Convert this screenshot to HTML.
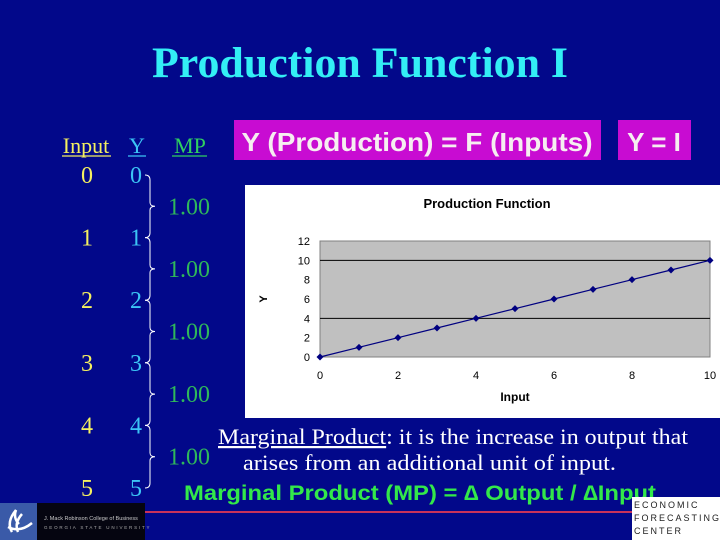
<!DOCTYPE html>
<html><head><meta charset="utf-8"><style>
html,body{margin:0;padding:0;background:#02088a;}
svg{display:block}
</style></head><body>
<svg width="720" height="540" viewBox="0 0 720 540" xmlns="http://www.w3.org/2000/svg">
<rect x="0" y="0" width="720" height="540" fill="#02088a"/>
<text x="360" y="77" text-anchor="middle" font-family="Liberation Serif, serif" font-weight="bold" font-size="43" fill="#33eef5" textLength="416" lengthAdjust="spacingAndGlyphs">Production Function I</text>

<g font-family="Liberation Serif, serif" font-size="24">
<text x="86" y="153" text-anchor="middle" fill="#f5f060" font-size="22">Input</text>
<line x1="62" y1="156" x2="111" y2="156" stroke="#f5f060" stroke-width="1.2"/>
<text x="137" y="153" text-anchor="middle" fill="#3cc4f5" font-size="22">Y</text>
<line x1="128" y1="156" x2="146" y2="156" stroke="#3cc4f5" stroke-width="1.2"/>
<text x="190" y="153" text-anchor="middle" fill="#2fd060" font-size="22">MP</text>
<line x1="172" y1="156" x2="207" y2="156" stroke="#2fd060" stroke-width="1.2"/>
<g id="rows"></g>
</g>

<rect x="234" y="120" width="367" height="40" fill="#c80cd2"/>
<text x="417" y="151" text-anchor="middle" font-family="Liberation Sans, sans-serif" font-weight="bold" font-size="26" fill="#f6eef0" textLength="351" lengthAdjust="spacingAndGlyphs">Y (Production) = F (Inputs)</text>
<rect x="618" y="120" width="73" height="40" fill="#c80cd2"/>
<text x="654" y="151" text-anchor="middle" font-family="Liberation Sans, sans-serif" font-weight="bold" font-size="26" fill="#f6eef0">Y = I</text>

<g id="chart">
<rect x="245" y="185" width="475" height="233" fill="#ffffff"/>
<text x="487" y="208" text-anchor="middle" font-family="Liberation Sans, sans-serif" font-weight="bold" font-size="13" fill="#000">Production Function</text>
<rect x="320" y="241" width="390" height="116" fill="#c0c0c0" stroke="#808080" stroke-width="1"/>
<g id="grid"></g>
<g id="ticks" font-family="Liberation Sans, sans-serif" font-size="11" fill="#000"></g>
<text x="267" y="299" text-anchor="middle" font-family="Liberation Sans, sans-serif" font-weight="bold" font-size="11" transform="rotate(-90 267 299)">Y</text>
<text x="515" y="401" text-anchor="middle" font-family="Liberation Sans, sans-serif" font-weight="bold" font-size="12">Input</text>
<g id="series"></g>
</g>

<text x="218" y="444" font-family="Liberation Serif, serif" font-size="22" fill="#ffffff" textLength="470" lengthAdjust="spacingAndGlyphs"><tspan text-decoration="underline">Marginal Product</tspan>: it is the increase in output that</text>
<text x="243" y="470" font-family="Liberation Serif, serif" font-size="22" fill="#ffffff" textLength="373" lengthAdjust="spacingAndGlyphs">arises from an additional unit of  input.</text>
<text x="184" y="500" font-family="Liberation Sans, sans-serif" font-weight="bold" font-size="21" fill="#33e84a" textLength="472" lengthAdjust="spacingAndGlyphs">Marginal Product (MP) = ∆ Output / ∆Input</text>

<line x1="145" y1="512" x2="632" y2="512" stroke="#c8325a" stroke-width="2"/>
<rect x="0" y="503" width="37" height="37" fill="#3a5aa8"/>
<path d="M12 532 q-6 -10 4 -22 q-3 8 3 14 M18 532 q-4 -9 4 -18 M8 527 q12 6 24 -4" stroke="#fff" stroke-width="2.5" fill="none"/>
<rect x="37" y="503" width="108" height="37" fill="#050510"/>
<text x="44" y="520" font-family="Liberation Sans, sans-serif" font-size="5.5" fill="#ccc">J. Mack Robinson College of Business</text>
<text x="44" y="529" font-family="Liberation Sans, sans-serif" font-size="4.5" letter-spacing="1.8" fill="#aaa">GEORGIA STATE UNIVERSITY</text>
<rect x="632" y="497" width="88" height="43" fill="#ffffff"/>
<g font-family="Liberation Sans, sans-serif" font-size="9" letter-spacing="2" fill="#222">
<text x="634" y="508">ECONOMIC</text><text x="634" y="521">FORECASTING</text><text x="634" y="534">CENTER</text>
</g>
</svg>
<script>
const xValues=[0,1,2,3,4,5,6,7,8,9,10];
const yValues=[0,1,2,3,4,5,6,7,8,9,10];
const xTicks=[0,2,4,6,8,10];
const yTicks=[0,2,4,6,8,10,12];
const gridValues=[4,10];
const tableInput=[0,1,2,3,4,5];
const tableY=[0,1,2,3,4,5];
const tableMP=["1.00","1.00","1.00","1.00","1.00"];

const NS="http://www.w3.org/2000/svg";
function mk(t,a,p){const e=document.createElementNS(NS,t);for(const k in a)e.setAttribute(k,a[k]);p.appendChild(e);return e;}
const X0=320,X1=710,Y0=357,Y1=241;
const sx=v=>X0+(v-0)/(10-0)*(X1-X0);
const sy=v=>Y0-(v-0)/(12-0)*(Y0-Y1);
const grid=document.getElementById('grid'),ticks=document.getElementById('ticks'),ser=document.getElementById('series');
gridValues.forEach(v=>{const l=mk('line',{x1:X0,x2:X1,y1:sy(v),y2:sy(v),stroke:'#000','stroke-width':1},grid);

});
yTicks.forEach(v=>{const t=mk('text',{x:X0-10,y:sy(v)+4,'text-anchor':'end'},ticks);t.textContent=v;

});
xTicks.forEach(v=>{const t=mk('text',{x:sx(v),y:Y0+22,'text-anchor':'middle'},ticks);t.textContent=v;

});
const line=mk('polyline',{points:xValues.map((x,i)=>sx(x)+','+sy(yValues[i])).join(' '),fill:'none',stroke:'#000080','stroke-width':1.2},ser);


xValues.forEach((x,i)=>{const cx=sx(x),cy=sy(yValues[i]);
const d=mk('polygon',{points:`${cx},${cy-3.5} ${cx+3.5},${cy} ${cx},${cy+3.5} ${cx-3.5},${cy}`,fill:'#000080'},ser);

});

const rows=document.getElementById('rows');
const rowY=i=>175+i*62.6;
tableInput.forEach((v,i)=>{
const a=mk('text',{x:87,y:rowY(i)+8,'text-anchor':'middle',fill:'#f5f060'},rows);a.textContent=v;


const b=mk('text',{x:136,y:rowY(i)+8,'text-anchor':'middle',fill:'#3cc4f5'},rows);b.textContent=tableY[i];

});
tableMP.forEach((v,i)=>{
const ya=rowY(i),yb=rowY(i+1),ym=(ya+yb)/2;
const br=mk('path',{d:`M145 ${ya} q5 0 5 5 L150 ${ym-4} q0 4 5 4 q-5 0 -5 4 L150 ${yb-5} q0 5 -5 5`,fill:'none',stroke:'#fff','stroke-width':1},rows);


const t=mk('text',{x:168,y:ym+8,fill:'#2fb85a'},rows);t.textContent=v;

});
</script>
</body></html>
